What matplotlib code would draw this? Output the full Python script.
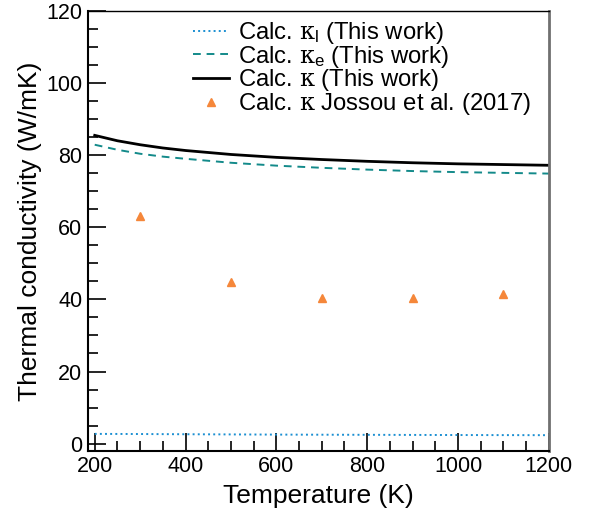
import numpy as np
import matplotlib
matplotlib.use('Agg')
import matplotlib.pyplot as plt
from matplotlib.ticker import MultipleLocator

plt.rcParams['font.family'] = ['Liberation Sans', 'DejaVu Sans']
plt.rcParams['mathtext.fontset'] = 'custom'
plt.rcParams['mathtext.rm'] = 'Liberation Sans'
plt.rcParams['mathtext.it'] = 'Liberation Sans'
plt.rcParams['mathtext.tt'] = 'DejaVu Serif'

# temperatures for the calculated curves
temp = [200, 250, 300, 350, 400, 500, 600, 700, 800, 900, 1000, 1100, 1200]
kappa_l = [2.7, 2.68, 2.66, 2.63, 2.6, 2.55, 2.5, 2.47, 2.44, 2.41, 2.38, 2.36, 2.34]
kappa_e = [82.9, 81.5, 80.4, 79.6, 79.0, 77.9, 77.1, 76.5, 76.0, 75.6, 75.3, 75.1, 74.9]
kappa_tot = [85.5, 84.0, 82.9, 82.0, 81.3, 80.2, 79.4, 78.8, 78.3, 77.9, 77.6, 77.4, 77.2]

# Jossou et al. (2017)
jossou_t = [300, 500, 700, 900, 1100]
jossou_k = [63.0, 44.8, 40.5, 40.3, 41.5]

kap = r'$\mathtt{\kappa}$'

fig = plt.figure(figsize=(5.94, 5.23), dpi=100)
ax = fig.add_axes([0.148, 0.138, 0.776, 0.841])

ax.plot(temp, kappa_l, ':', color='#1b8fd2', lw=1.4, label=r'Calc. $\mathtt{\kappa}_\mathrm{l}$ (This work)')
ax.plot(temp, kappa_e, '--', color='#138a8a', lw=1.4, dashes=(4, 3), label=r'Calc. $\mathtt{\kappa}_\mathrm{e}$ (This work)')
ax.plot(temp, kappa_tot, '-', color='black', lw=2.0, label='Calc. ' + kap + ' (This work)')
ax.plot(jossou_t, jossou_k, '^', color='#f5873a', ms=6, ls='none', label='Calc. ' + kap + ' Jossou et al. (2017)')

ax.set_xlim(185, 1200)
ax.set_ylim(-2, 120)
ax.xaxis.set_major_locator(MultipleLocator(200))
ax.xaxis.set_minor_locator(MultipleLocator(50))
ax.yaxis.set_major_locator(MultipleLocator(20))
ax.yaxis.set_minor_locator(MultipleLocator(5))
ax.tick_params(which='both', direction='in', top=False, right=False, labelsize=15.5, width=1.2, pad=4)
ax.tick_params(which='major', length=13)
ax.tick_params(which='minor', length=7)

for s in ['left', 'bottom']:
    ax.spines[s].set_linewidth(1.5)
ax.spines['top'].set_linewidth(1.0)
ax.spines['right'].set_color('#707070')
ax.spines['right'].set_linewidth(2.0)

ax.set_xlabel('Temperature (K)', fontsize=19, labelpad=5)
ax.set_ylabel('Thermal conductivity (W/mK)', fontsize=19, labelpad=3)

ax.legend(loc='upper left', bbox_to_anchor=(0.197, 1.012), frameon=False, fontsize=17.2,
          handlelength=1.5, handletextpad=0.4, labelspacing=-0.1, borderaxespad=0.2)

fig.savefig('out.png', dpi=100)
